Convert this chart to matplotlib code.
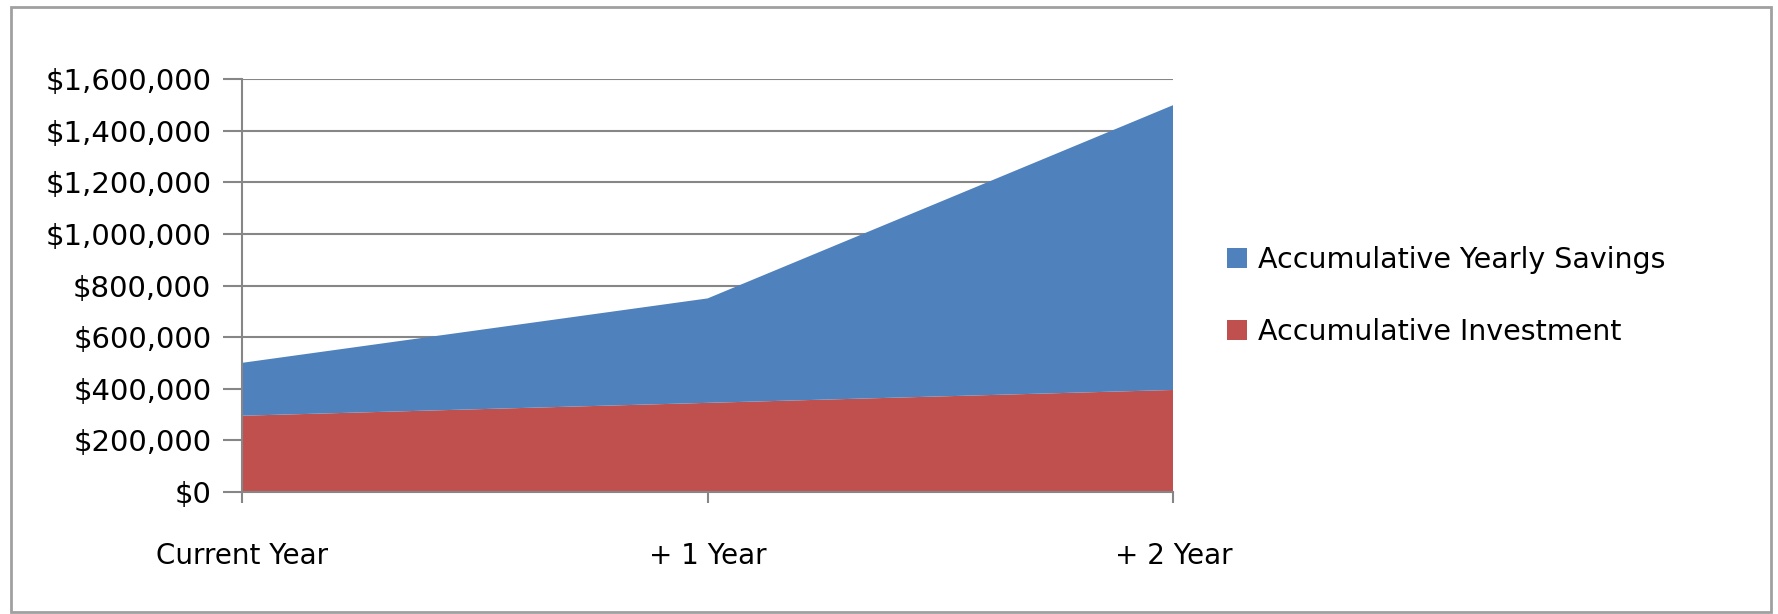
import matplotlib.pyplot as plt
from matplotlib.ticker import FuncFormatter
from matplotlib.patches import Rectangle

categories = ['Current Year', '+ 1 Year', '+ 2 Year']
investment = [295000, 345000, 395000]
yearly_savings = [205000, 405000, 1105000]

blue = '#4F81BD'
red = '#C0504D'
grid_col = '#868686'

fig = plt.figure(figsize=(17.78, 6.14), dpi=100)
ax = fig.add_axes([0.136, 0.199, 0.524, 0.672])

x = list(range(len(categories)))
ax.stackplot(x, investment, yearly_savings, colors=[red, blue],
             labels=['Accumulative Investment', 'Accumulative Yearly Savings'], zorder=2)

ax.set_xlim(0, 2)
ax.set_ylim(0, 1600000)
ax.set_yticks(range(0, 1600001, 200000))
ax.yaxis.set_major_formatter(FuncFormatter(lambda v, p: '${:,.0f}'.format(v)))
ax.set_xticks(x)
ax.set_xticklabels(categories)
ax.grid(axis='y', color=grid_col, linewidth=1.5, zorder=0)
ax.set_axisbelow(True)

for side in ['top', 'right']:
    ax.spines[side].set_visible(False)
for side in ['left', 'bottom']:
    ax.spines[side].set_color(grid_col)
    ax.spines[side].set_linewidth(1.5)
ax.tick_params(axis='y', length=14, width=1.5, color=grid_col, labelsize=21, pad=8)
ax.tick_params(axis='x', length=8, width=1.5, color=grid_col, labelsize=20, pad=28)

handles, labels = ax.get_legend_handles_labels()
ax.legend(handles[::-1], labels[::-1], loc='center left', bbox_to_anchor=(1.03, 0.475),
          frameon=False, fontsize=20.5, handlelength=0.7, handleheight=0.7,
          handletextpad=0.4, labelspacing=1.55)

fig.patches.append(Rectangle((0.006, 0.004), 0.99, 0.985, transform=fig.transFigure,
                             fill=False, edgecolor='#A0A0A0', linewidth=2))

plt.savefig('out.png')
